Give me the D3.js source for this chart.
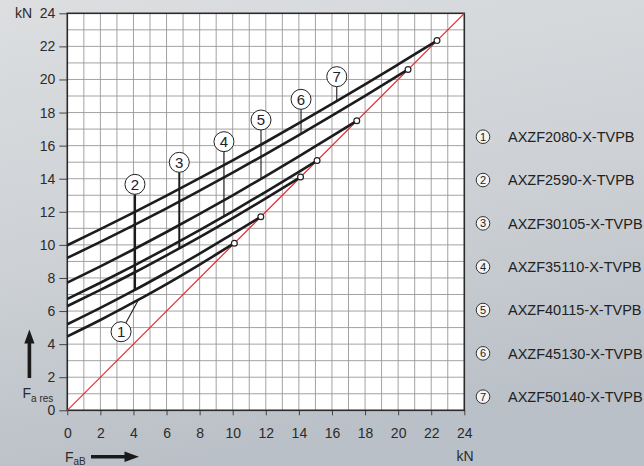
<!DOCTYPE html>
<html>
<head>
<meta charset="utf-8">
<script src="https://cdn.jsdelivr.net/npm/d3@7"></script>
<style>
    body { margin: 0; overflow: hidden; }
    svg { display: block; font-family: "Liberation Sans", Arial, sans-serif; }
    .tick text { fill: #2b2b2b; }
</style>
</head>
<body>
<svg id="svg"></svg>
<script>
    //declarations
    let width = 644
    let height = 466
    let svg = d3.select('#svg').attr('width', width).attr('height', height)

    //tick labels on both axes (kN)
    let tickValues = [0, 2, 4, 6, 8, 10, 12, 14, 16, 18, 20, 22, 24]
    let curveX = [0, 2, 4, 6, 8, 10, 12, 14, 16, 18, 20]
    //F_a res for each nut
    let nut1 = [4.47, 5.46, 6.52, 7.63, 8.81]
    let nut2 = [5.20, 6.19, 7.23, 8.33, 9.47, 10.67]
    let nut3 = [6.30, 7.28, 8.30, 9.37, 10.47, 11.62, 12.81]
    let nut4 = [6.73, 7.71, 8.73, 9.79, 10.89, 12.03, 13.21, 14.42]
    let nut5 = [7.72, 8.70, 9.72, 10.78, 11.87, 13.00, 14.16, 15.35, 16.57]
    let nut6 = [9.21, 10.18, 11.18, 12.21, 13.28, 14.37, 15.49, 16.64, 17.81, 19.01]
    let nut7 = [9.98, 10.95, 11.95, 12.98, 14.03, 15.11, 16.22, 17.36, 18.52, 19.70, 20.91]
    //where each curve meets the diagonal (small circles)
    let endPoints = [10.1, 11.7, 14.1, 15.1, 17.5, 20.6, 22.35]
    //legend names
    let names = ['AXZF2080-X-TVPB', 'AXZF2590-X-TVPB', 'AXZF30105-X-TVPB', 'AXZF35110-X-TVPB',
        'AXZF40115-X-TVPB', 'AXZF45130-X-TVPB', 'AXZF50140-X-TVPB']

    let series = [nut1, nut2, nut3, nut4, nut5, nut6, nut7].map((vals, i) => {
        let pts = vals.map((v, j) => ({ x: curveX[j], y: v }))
        pts.push({ x: endPoints[i], y: endPoints[i] })
        return pts
    })

    //where the numbered callouts sit (data units) and where their leaders hit the curve
    let callouts = [
        { cx: 3.25, cy: 4.75, lx: 4.31, w: 1.1 },
        { cx: 4.09, cy: 13.66, lx: 4.09, w: 2.2 },
        { cx: 6.77, cy: 14.99, lx: 6.77, w: 2 },
        { cx: 9.47, cy: 16.24, lx: 9.47, w: 1.2 },
        { cx: 11.71, cy: 17.55, lx: 11.71, w: 1.1 },
        { cx: 14.13, cy: 18.80, lx: 14.13, w: 1.1 },
        { cx: 16.29, cy: 20.17, lx: 16.29, w: 1.1 }
    ]

/*---------------------------------------------------------------------*/
    //background
    let defs = svg.append('defs')
    let grad = defs.append('linearGradient').attr('id', 'bg')
        .attr('x1', 0).attr('y1', 0).attr('x2', 0.25).attr('y2', 1)
    grad.append('stop').attr('offset', '0%').attr('stop-color', '#dcdee0')
    grad.append('stop').attr('offset', '55%').attr('stop-color', '#cdd1d5')
    grad.append('stop').attr('offset', '100%').attr('stop-color', '#bac0c7')
    svg.append('rect').attr('width', width).attr('height', height).attr('fill', 'url(#bg)')

    //scales
    let x = d3.scaleLinear().domain([0, 24]).range([67.3, 464.3])
    let y = d3.scaleLinear().domain([0, 24]).range([410.3, 13.3])

    //plot area
    svg.append('rect')
        .attr('x', x(0)).attr('y', y(24))
        .attr('width', x(24) - x(0)).attr('height', y(0) - y(24))
        .attr('fill', '#fff')

    //grid every kN
    let gridVals = d3.range(1, 24)
    let grid = svg.append('g').attr('stroke', '#999').attr('stroke-width', 0.9)
    grid.selectAll('.gv').data(gridVals).join('line').attr('class', 'gv')
        .attr('x1', d => x(d)).attr('x2', d => x(d))
        .attr('y1', y(0)).attr('y2', y(24))
    grid.selectAll('.gh').data(gridVals).join('line').attr('class', 'gh')
        .attr('y1', d => y(d)).attr('y2', d => y(d))
        .attr('x1', x(0)).attr('x2', x(24))

    //yAxis
    let yGroup = svg.append('g')
        .attr('transform', `translate(${x(0)},0)`)
        .call(d3.axisLeft(y).tickValues(tickValues).tickSize(8).tickPadding(4))
    //xAxis
    let xGroup = svg.append('g')
        .attr('transform', `translate(0,${y(0)})`)
        .call(d3.axisBottom(x).tickValues(tickValues).tickSize(5).tickPadding(13))
    ;[xGroup, yGroup].forEach(g => {
        g.select('.domain').remove()
        g.selectAll('.tick line').attr('stroke', '#444').attr('stroke-width', 1)
        g.selectAll('.tick text').attr('font-size', 14).attr('font-family', '"Liberation Sans", Arial, sans-serif')
    })

    //frame
    svg.append('rect')
        .attr('x', x(0)).attr('y', y(24))
        .attr('width', x(24) - x(0)).attr('height', y(0) - y(24))
        .attr('fill', 'none').attr('stroke', '#2a2a2a').attr('stroke-width', 1.6)

    //diagonal F_a res = F_aB
    svg.append('line')
        .attr('x1', x(0)).attr('y1', y(0)).attr('x2', x(24)).attr('y2', y(24))
        .attr('stroke', '#e8262b').attr('stroke-width', 1.2)

/*---------------------------------------------------------------------*/
    //curves
    let line = d3.line().x(d => x(d.x)).y(d => y(d.y)).curve(d3.curveMonotoneX)
    svg.append('g')
        .selectAll('path')
        .data(series)
        .join('path')
        .attr('d', line)
        .attr('fill', 'none')
        .attr('stroke', '#1c1c1c')
        .attr('stroke-width', 2.6)

    //small circles at lift-off
    svg.append('g')
        .selectAll('circle')
        .data(endPoints)
        .join('circle')
        .attr('cx', d => x(d)).attr('cy', d => y(d))
        .attr('r', 2.9)
        .attr('fill', '#fff').attr('stroke', '#222').attr('stroke-width', 1.2)

    //value of a curve at some F_aB
    let valueAt = (pts, xv) => {
        for (let k = 1; k < pts.length; k++) {
            if (xv <= pts[k].x) {
                let a = pts[k - 1], b = pts[k]
                return a.y + (b.y - a.y) * (xv - a.x) / (b.x - a.x)
            }
        }
        return pts[pts.length - 1].y
    }

    //numbered callouts
    let r = 10
    let labels = svg.append('g')
    callouts.forEach((c, i) => {
        let px = x(c.cx), py = y(c.cy)
        let tx = x(c.lx), ty = y(valueAt(series[i], c.lx))
        //leader starts at the circle edge, towards the curve
        let ang = Math.atan2(ty - py, tx - px)
        labels.append('line')
            .attr('x1', px + r * Math.cos(ang)).attr('y1', py + r * Math.sin(ang))
            .attr('x2', tx).attr('y2', ty)
            .attr('stroke', '#1c1c1c').attr('stroke-width', c.w)
        labels.append('circle')
            .attr('cx', px).attr('cy', py).attr('r', r)
            .attr('fill', '#fff').attr('stroke', '#222').attr('stroke-width', 1)
        labels.append('text')
            .attr('x', px).attr('y', py)
            .attr('dy', '0.36em')
            .attr('text-anchor', 'middle')
            .attr('font-size', 15)
            .attr('fill', '#222')
            .text(i + 1)
    })

/*---------------------------------------------------------------------*/
    //legend
    let legend = svg.append('g')
        .selectAll('g')
        .data(names)
        .join('g')
        .attr('transform', (d, i) => `translate(483,${136.7 + i * 43.33})`)
    legend.append('circle')
        .attr('r', 6.8)
        .attr('fill', '#f4f4f4').attr('stroke', '#333').attr('stroke-width', 1)
    legend.append('text')
        .attr('text-anchor', 'middle').attr('dy', '0.36em')
        .attr('font-size', 11).attr('fill', '#222')
        .text((d, i) => i + 1)
    legend.append('text')
        .attr('x', 25).attr('dy', '0.36em')
        .attr('font-size', 14.5).attr('fill', '#222')
        .text(d => d)

    //axis captions
    svg.append('text').attr('x', 15).attr('y', y(24)).attr('dy', '0.32em')
        .attr('font-size', 14).attr('fill', '#2b2b2b').text('kN')
    svg.append('text').attr('x', 456.5).attr('y', 461)
        .attr('font-size', 14).attr('fill', '#2b2b2b').text('kN')

    //F_aB with arrow
    let fab = svg.append('text').attr('x', 65).attr('y', 461.5)
        .attr('font-size', 14).attr('fill', '#2b2b2b')
    fab.append('tspan').text('F')
    fab.append('tspan').attr('dy', 3.5).attr('font-size', 10).text('aB')
    svg.append('path')
        .attr('d', 'M91,455 L124.5,455 L124.5,451.5 L139,456.7 L124.5,462 L124.5,458.5 L91,458.5 Z')
        .attr('fill', '#1a1a1a')

    //F_a res with arrow
    let fres = svg.append('text').attr('x', 22.5).attr('y', 398)
        .attr('font-size', 14).attr('fill', '#2b2b2b')
    fres.append('tspan').text('F')
    fres.append('tspan').attr('dy', 3.5).attr('font-size', 10).text('a res')
    svg.append('path')
        .attr('d', 'M27.6,378 L27.6,343.5 L24.3,343.5 L29.4,329.5 L34.5,343.5 L31.2,343.5 L31.2,378 Z')
        .attr('fill', '#1a1a1a')
</script>
</body>
</html>
